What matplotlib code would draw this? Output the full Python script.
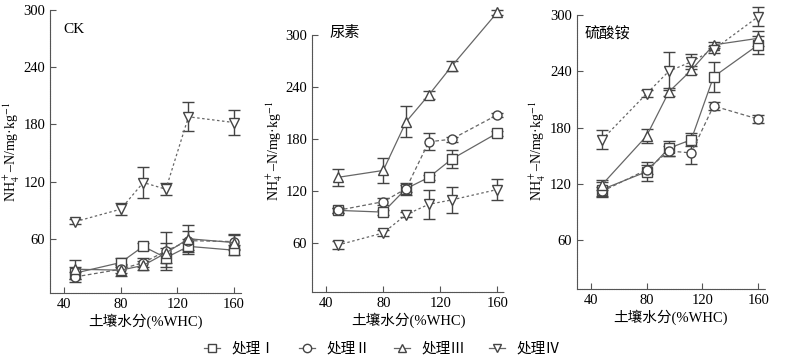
import matplotlib
matplotlib.use("Agg")
import matplotlib.pyplot as plt
from matplotlib.lines import Line2D

plt.rcParams['font.family'] = ['Liberation Serif', 'Noto Sans CJK SC']
plt.rcParams['mathtext.fontset'] = 'stix'

# soil moisture (%WHC)
x = [48, 80, 96, 112, 128, 160]

panels = ['CK', '尿素', '硫酸铵']
series_names = ['处理Ⅰ', '处理Ⅱ', '处理Ⅲ', '处理Ⅳ']

# CK
ck_1 = [24, 35, 52, 40, 52, 48]
ck_1_err = [6, 5, 4, 10, 8, 5]
ck_2 = [20, 28, 35, 47, 58, 57]
ck_2_err = [5, 4, 5, 20, 10, 8]
ck_3 = [28, 27, 32, 45, 60, 56]
ck_3_err = [10, 6, 5, 10, 14, 8]
ck_4 = [78, 91, 119, 112, 188, 182]
ck_4_err = [3, 6, 16, 6, 15, 13]

# urea
ur_1 = [98, 96, 123, 136, 157, 187]
ur_1_err = [3, 3, 7, 3, 10, 3]
ur_2 = [98, 108, 123, 177, 180, 208]
ur_2_err = [3, 4, 4, 10, 3, 2]
ur_3 = [136, 144, 200, 231, 264, 326]
ur_3_err = [10, 14, 18, 5, 6, 3]
ur_4 = [58, 72, 93, 105, 110, 122]
ur_4_err = [5, 3, 3, 17, 15, 12]

# ammonium sulfate
as_1 = [114, 133, 158, 167, 234, 268]
as_1_err = [8, 10, 8, 7, 16, 10]
as_2 = [112, 135, 155, 153, 203, 189]
as_2_err = [5, 5, 5, 12, 4, 4]
as_3 = [119, 171, 218, 241, 268, 275]
as_3_err = [5, 7, 4, 4, 3, 8]
as_4 = [167, 216, 240, 250, 263, 298]
as_4_err = [10, 4, 20, 8, 4, 10]

data = [
    [(ck_1, ck_1_err), (ck_2, ck_2_err), (ck_3, ck_3_err), (ck_4, ck_4_err)],
    [(ur_1, ur_1_err), (ur_2, ur_2_err), (ur_3, ur_3_err), (ur_4, ur_4_err)],
    [(as_1, as_1_err), (as_2, as_2_err), (as_3, as_3_err), (as_4, as_4_err)],
]

markers = ['s', 'o', '^', 'v']
styles = ['-', (0, (3, 2)), '-', (0, (2, 2))]
col = '#666666'
edge = '#444444'

fig = plt.figure(figsize=(7.88, 3.6), dpi=100)
boxes = [
    [0.0635, 0.186, 0.242, 0.786],
    [0.396, 0.189, 0.244, 0.786],
    [0.732, 0.197, 0.239, 0.767],
]
ylims = [(3, 300), (4, 330), (8, 302)]
ylab_x = [-0.147, -0.14, -0.154]
label_pos = [(0.07, 0.93), (0.09, 0.915), (0.043, 0.924)]

for k, box in enumerate(boxes):
    ax = fig.add_axes(box)
    for (y, e), m, ls in zip(data[k], markers, styles):
        ax.errorbar(x, y, yerr=e, color=col, linestyle=ls, linewidth=0.9,
                    marker=m, markersize=6.5, markerfacecolor='white',
                    markeredgecolor=edge, markeredgewidth=1.0,
                    ecolor=edge, elinewidth=1.0, capsize=4, capthick=1.0,
                    clip_on=False)
    ax.set_xlim(30, 165)
    ax.set_ylim(*ylims[k])
    ax.set_xticks([40, 80, 120, 160])
    ax.set_yticks([60, 120, 180, 240, 300])
    for s in ['top', 'right']:
        ax.spines[s].set_visible(False)
    for s in ['left', 'bottom']:
        ax.spines[s].set_color('#555555')
        ax.spines[s].set_linestyle((0, (1, 0.6)))
    ax.spines['left'].set_bounds(ylims[k][0], 300)
    ax.tick_params(direction='in', length=4, color='#555555', labelsize=10.5)
    ax.set_xlabel('土壤水分(%WHC)', fontsize=10.5, labelpad=2)
    ax.set_ylabel(r'NH$_4^+$–N/mg·kg$^{-1}$', fontsize=10)
    ax.yaxis.set_label_coords(ylab_x[k], 0.5)
    ax.text(label_pos[k][0], label_pos[k][1], panels[k], transform=ax.transAxes,
            fontsize=11, ha='left', va='center')

handles = [Line2D([0], [0], color=col, linestyle='-', linewidth=0.9, marker=m,
                  markersize=6, markerfacecolor='white', markeredgecolor=edge)
           for m in markers]
fig.legend(handles, series_names, loc='center', bbox_to_anchor=(0.485, 0.03),
           ncol=4, frameon=False, fontsize=10.5, handlelength=1.1,
           columnspacing=1.6, handletextpad=0.8)

fig.savefig('out.png', dpi=100)
